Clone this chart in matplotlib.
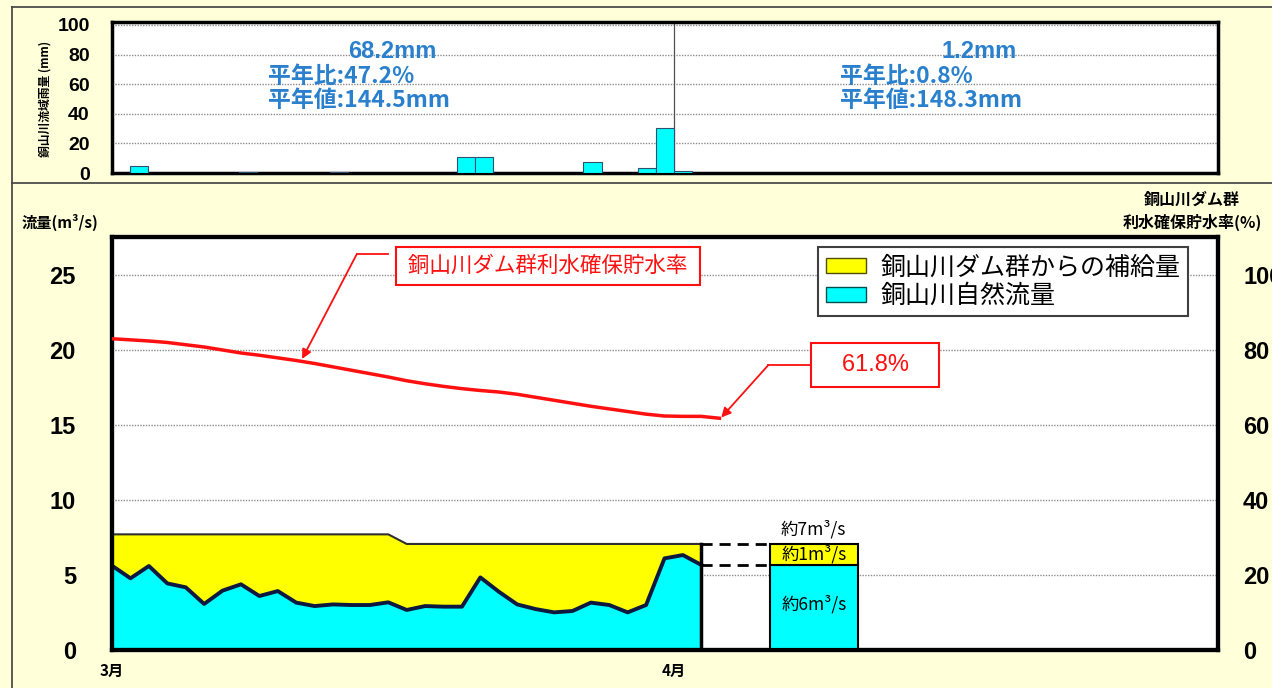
import numpy as np
import matplotlib
matplotlib.use('Agg')
import matplotlib.pyplot as plt
from matplotlib.patches import Patch
from matplotlib.lines import Line2D

JP = ['Noto Sans CJK JP', 'DejaVu Sans']
NUM = ['Liberation Sans Narrow', 'Liberation Sans', 'DejaVu Sans']
plt.rcParams['font.family'] = JP

# --- data ---
# daily rainfall, day index from 1 March
rain_days = [1, 7, 12, 19, 20, 26, 29, 30, 31]
rain_mm = [4.5, 0.5, 0.5, 10.8, 10.8, 7.4, 3.5, 30.2, 1.2]

# daily flow (m3/s), 1 March .. 2 April
natural_flow = [5.62, 4.78, 5.60, 4.44, 4.18, 3.07, 3.96, 4.38, 3.60, 3.93, 3.16,
                2.93, 3.04, 3.00, 3.00, 3.18, 2.67, 2.93, 2.89, 2.89, 4.84, 3.89,
                3.04, 2.73, 2.51, 2.60, 3.16, 3.00, 2.51, 3.00, 6.11, 6.33, 5.67]
total_flow = [7.71, 7.71, 7.71, 7.71, 7.71, 7.71, 7.71, 7.71, 7.71, 7.71, 7.71,
              7.71, 7.71, 7.71, 7.71, 7.71, 7.07, 7.07, 7.07, 7.07, 7.07, 7.07,
              7.07, 7.07, 7.07, 7.07, 7.07, 7.07, 7.07, 7.07, 7.07, 7.07, 7.07]

# storage rate (%), 1 March .. 3 April
storage_rate = [83.0, 82.7, 82.4, 82.0, 81.4, 80.8, 80.0, 79.2, 78.6, 77.9, 77.2,
                76.4, 75.5, 74.6, 73.7, 72.8, 71.8, 71.0, 70.3, 69.7, 69.2, 68.8,
                68.2, 67.4, 66.6, 65.8, 65.0, 64.3, 63.6, 62.9, 62.4, 62.3, 62.3,
                61.8]

forecast_natural = 5.67   # 約6m3/s
forecast_supply = 1.40    # 約1m3/s

month_ticks = [0, 31]
month_labels = ['3月', '4月']

flow_days = np.linspace(0, 32.5, len(natural_flow))
rate_days = np.linspace(0, 33.5, len(storage_rate))

BG = '#FFFFDA'
CYAN = '#00FFFF'
YELLOW = '#FFFF00'
RED = '#FF1010'
BLUE = '#2A80CC'

fig = plt.figure(figsize=(12.72, 6.88), dpi=100, facecolor=BG)

# ---------- rainfall panel ----------
ax1 = fig.add_axes([0.0881, 0.7485, 0.8695, 0.2195])
ax1.set_facecolor('white')
ax1.bar(rain_days, rain_mm, width=1, align='edge', color=CYAN,
        edgecolor='#305070', linewidth=0.8, zorder=3)
ax1.set_xlim(0, 61)
ax1.set_ylim(0, 102)
ax1.set_yticks(range(0, 101, 20))
ax1.set_xticks([])
ax1.grid(axis='y', color='#8c8c8c', linestyle=(0, (1, 1)), linewidth=1)
ax1.set_axisbelow(True)
ax1.axvline(31, color='#505050', lw=0.9, zorder=2)
for s in ax1.spines.values():
    s.set_linewidth(2.5)
ax1.tick_params(axis='y', length=0, pad=16)
for lab in ax1.get_yticklabels():
    lab.set_fontfamily(NUM)
    lab.set_fontsize(14)
    lab.set_fontweight('bold')

ax1.text(15.44, 81.8, '68.2mm', color=BLUE, fontsize=17, fontweight='bold',
         ha='center', va='center', family=NUM)
ax1.text(8.6, 65.5, '平年比:47.2%', color=BLUE, fontsize=16.5, fontweight='bold',
         ha='left', va='center')
ax1.text(8.6, 49.3, '平年値:144.5mm', color=BLUE, fontsize=16.5, fontweight='bold',
         ha='left', va='center')
ax1.text(47.8, 81.8, '1.2mm', color=BLUE, fontsize=17, fontweight='bold',
         ha='center', va='center', family=NUM)
ax1.text(40.15, 65.5, '平年比:0.8%', color=BLUE, fontsize=16.5, fontweight='bold',
         ha='left', va='center')
ax1.text(40.15, 49.3, '平年値:148.3mm', color=BLUE, fontsize=16.5, fontweight='bold',
         ha='left', va='center')

fig.text(0.0354, 0.856, '銅山川流域雨量 (mm)', rotation=90, fontsize=8.5,
         fontweight='bold', ha='center', va='center')

# ---------- flow panel ----------
ax2 = fig.add_axes([0.0881, 0.0552, 0.8695, 0.6003])
ax2.set_facecolor('white')
ax2.set_xlim(0, 61)
ax2.set_ylim(0, 27.53)
ax2.fill_between(flow_days, 0, natural_flow, color=CYAN, lw=0, zorder=2)
ax2.fill_between(flow_days, natural_flow, total_flow, color=YELLOW, lw=0, zorder=2)
ax2.plot(flow_days, total_flow, color='#303030', lw=1.5, zorder=3)
ax2.plot(flow_days, natural_flow, color='#0c1840', lw=2.8, zorder=4)
ax2.plot([flow_days[-1], flow_days[-1]], [0, total_flow[-1]], color='black',
         lw=2.5, zorder=4)

box_x = 38.7
box_w = 4.85
box_left = box_x - box_w / 2
ax2.plot([flow_days[-1], box_left], [total_flow[-1], total_flow[-1]],
         color='black', lw=2, ls=(0, (4, 2.5)), zorder=4)
ax2.plot([flow_days[-1], box_left], [natural_flow[-1], natural_flow[-1]],
         color='black', lw=2, ls=(0, (4, 2.5)), zorder=4)
ax2.bar(box_x, forecast_natural, width=box_w, color=CYAN, edgecolor='black',
        linewidth=1.5, zorder=3)
ax2.bar(box_x, forecast_supply, bottom=forecast_natural, width=box_w,
        color=YELLOW, edgecolor='black', linewidth=1.5, zorder=3)
ax2.text(box_x, forecast_natural + forecast_supply + 1.0, '約7m³/s',
         fontsize=12.5, ha='center', va='center')
ax2.text(box_x, forecast_natural + forecast_supply / 2, '約1m³/s',
         fontsize=12.5, ha='center', va='center')
ax2.text(box_x, forecast_natural / 2 + 0.2, '約6m³/s',
         fontsize=12.5, ha='center', va='center')

ax2.set_yticks(range(0, 26, 5))
ax2.grid(axis='y', color='#8c8c8c', linestyle=(0, (1, 1)), linewidth=1, zorder=0)
ax2.set_axisbelow(True)
ax2.set_xticks(month_ticks)
ax2.set_xticklabels(month_labels)
ax2.tick_params(axis='y', length=0, pad=26)
ax2.tick_params(axis='x', length=0, pad=9)
for lab in ax2.get_yticklabels():
    lab.set_fontfamily(NUM)
    lab.set_fontsize(17)
    lab.set_fontweight('bold')
for lab in ax2.get_xticklabels():
    lab.set_fontsize(11)
    lab.set_fontweight('bold')
for s in ax2.spines.values():
    s.set_linewidth(3)

ax3 = ax2.twinx()
ax3.set_ylim(0, 27.53 * 4)
ax3.set_yticks(range(0, 101, 20))
ax3.plot(rate_days, storage_rate, color=RED, lw=2.5, zorder=5)
ax3.tick_params(axis='y', length=0, pad=18)
for lab in ax3.get_yticklabels():
    lab.set_fontfamily(NUM)
    lab.set_fontsize(17)
    lab.set_fontweight('bold')
for s in ax3.spines.values():
    s.set_linewidth(3)

# callouts
ax3.text(24.05, 102.4, ' 銅山川ダム群利水確保貯水率 ', color=RED, fontsize=15.5,
         ha='center', va='center',
         bbox=dict(boxstyle='square,pad=0.35', fc='white', ec=RED, lw=1.5))
ax3.plot([15.2, 13.5], [105.6, 105.6], color=RED, lw=1.3)
ax3.annotate('', xy=(10.48, 77.6), xytext=(13.5, 105.6),
             arrowprops=dict(arrowstyle='-|>', color=RED, lw=1.3,
                             mutation_scale=14, shrinkA=0, shrinkB=0))

ax3.text(42.1, 76.0, '   61.8%   ', color=RED, fontsize=17, ha='center',
         va='center', family=NUM,
         bbox=dict(boxstyle='square,pad=0.45', fc='white', ec=RED, lw=1.5))
ax3.plot([38.5, 36.2], [76.0, 76.0], color=RED, lw=1.3)
ax3.annotate('', xy=(33.6, 62.0), xytext=(36.2, 76.0),
             arrowprops=dict(arrowstyle='-|>', color=RED, lw=1.3,
                             mutation_scale=14, shrinkA=0, shrinkB=0))

leg = ax3.legend(handles=[Patch(fc=YELLOW, ec='#505000', lw=1),
                          Patch(fc=CYAN, ec='#005050', lw=1)],
                 labels=['銅山川ダム群からの補給量', '銅山川自然流量'],
                 loc='upper right', bbox_to_anchor=(0.973, 0.976),
                 fontsize=18, fancybox=False, framealpha=1, edgecolor='#404040',
                 handlelength=1.6, handleheight=0.55, borderpad=0.3,
                 labelspacing=0.1, handletextpad=0.6, borderaxespad=0)
leg.get_frame().set_linewidth(1.5)

fig.text(22 / 1272, 1 - 222 / 688, '流量(m³/s)', fontsize=11, fontweight='bold',
         ha='left', va='center')
fig.text(0.937, 0.709, '銅山川ダム群', fontsize=11.5, fontweight='bold',
         ha='center', va='center')
fig.text(0.937, 0.677, '利水確保貯水率(%)', fontsize=11.5, fontweight='bold',
         ha='center', va='center')

# frame lines of the sheet
fig.add_artist(Line2D([0.0094, 0.0094], [0, 0.9898], color='#404040', lw=1.2))
fig.add_artist(Line2D([0.0094, 1], [0.9898, 0.9898], color='#404040', lw=1.2))
fig.add_artist(Line2D([0.0094, 1], [0.734, 0.734], color='#404040', lw=1.2))

fig.savefig('out.png', dpi=100, facecolor=BG)
